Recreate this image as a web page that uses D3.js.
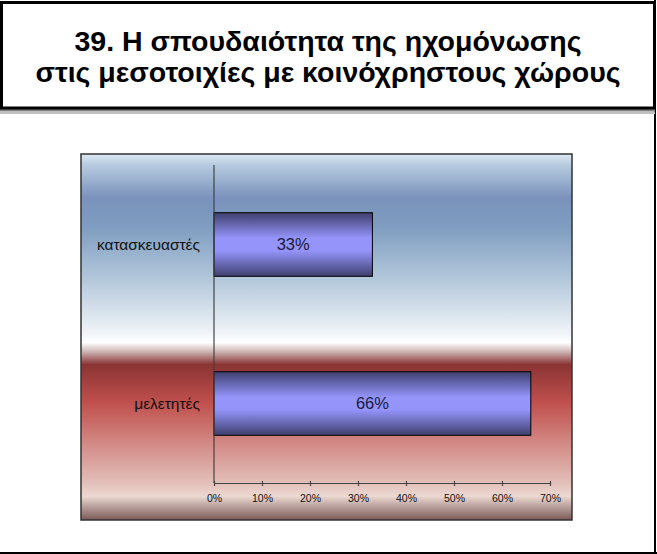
<!DOCTYPE html>
<html>
<head>
<meta charset="utf-8">
<script src="https://cdn.jsdelivr.net/npm/d3@7"></script>
<style>
  body { margin: 0; background: #fff; }
  svg { display: block; font-family: "Liberation Sans", Arial, sans-serif; }
</style>
</head>
<body>
<svg id="chart" width="657" height="554"></svg>
<script>
var titleLines = ["39. Η σπουδαιότητα της ηχομόνωσης",
                  "στις μεσοτοιχίες με κοινόχρηστους χώρους"];
var categories = ["κατασκευαστές", "μελετητές"];
var values = [33, 66];
var xTicks = [0, 10, 20, 30, 40, 50, 60, 70];

var svg = d3.select("#chart");
var defs = svg.append("defs");

//Plot area background: blue half over red half
var bgStops = [
  [0, "#dde8f2"], [0.03, "#b7cbdf"], [0.12, "#7a92bc"], [0.2, "#7f9dc0"],
  [0.3, "#a3bbd3"], [0.4, "#cbd9e6"], [0.49, "#f0f4f8"], [0.515, "#ffffff"],
  [0.54, "#cdb5b4"], [0.575, "#8a3434"], [0.68, "#c0504d"], [0.8, "#d48e8a"],
  [0.9, "#e3c0ba"], [0.935, "#ecd9d2"], [0.965, "#b59d98"], [1, "#7a5a58"]
];
var bg = defs.append("linearGradient").attr("id", "bg")
  .attr("x1", 0).attr("y1", 0).attr("x2", 0).attr("y2", 1);
bg.selectAll("stop").data(bgStops).enter().append("stop")
  .attr("offset", function(d){ return d[0]; })
  .attr("stop-color", function(d){ return d[1]; });

var barGrad = defs.append("linearGradient").attr("id", "bar")
  .attr("x1", 0).attr("y1", 0).attr("x2", 0).attr("y2", 1);
barGrad.selectAll("stop").data([[0, "#3f3f6e"], [0.4, "#9494fb"], [0.6, "#9494fb"], [1, "#3f3f6e"]])
  .enter().append("stop")
  .attr("offset", function(d){ return d[0]; })
  .attr("stop-color", function(d){ return d[1]; });

//Page frame (right and bottom)
svg.append("line").attr("x1", 655).attr("y1", 0).attr("x2", 655).attr("y2", 554)
  .style("stroke", "#000").style("stroke-width", 2);
svg.append("line").attr("x1", 0).attr("y1", 553).attr("x2", 657).attr("y2", 553)
  .style("stroke", "#000").style("stroke-width", 2);

//Title box with shadow
svg.append("rect").attr("x", 0).attr("y", 109).attr("width", 655).attr("height", 2.5).style("fill", "#7f7f7f");
svg.append("rect").attr("x", 0).attr("y", 111.5).attr("width", 655).attr("height", 2.5).style("fill", "#c0c0c0");
svg.append("rect")
  .attr("x", 1.5).attr("y", 2.5).attr("width", 653).attr("height", 105.5)
  .style("fill", "#fff").style("stroke", "#000").style("stroke-width", 3);

svg.selectAll(".title").data(titleLines).enter().append("text")
  .attr("class", "title")
  .attr("x", 328)
  .attr("y", function(d, i){ return 51 + i * 31; })
  .attr("text-anchor", "middle")
  .style("font-size", "28.5px").style("font-weight", "bold")
  .text(function(d){ return d; });

//Plot area
svg.append("rect")
  .attr("x", 81).attr("y", 154).attr("width", 491).attr("height", 366)
  .style("fill", "url(#bg)").style("stroke", "#333").style("stroke-width", 1.5);

var x = d3.scaleLinear().domain([0, 70]).range([214, 550]);
var y = d3.scaleBand().domain(categories).range([165, 483])
  .paddingInner(0.6).paddingOuter(0.3);

//Bars
svg.selectAll(".bar").data(values).enter().append("rect")
  .attr("class", "bar")
  .attr("x", x(0))
  .attr("y", function(d, i){ return y(categories[i]); })
  .attr("width", function(d){ return x(d) - x(0); })
  .attr("height", y.bandwidth())
  .style("fill", "url(#bar)").style("stroke", "#000").style("stroke-width", 1);

svg.selectAll(".val").data(values).enter().append("text")
  .attr("class", "val")
  .attr("x", function(d){ return (x(0) + x(d)) / 2; })
  .attr("y", function(d, i){ return y(categories[i]) + y.bandwidth() / 2; })
  .attr("dy", "0.36em")
  .attr("text-anchor", "middle")
  .style("font-size", "16.5px").style("fill", "#1a1a38")
  .text(function(d){ return d + "%"; });

//Category labels
svg.selectAll(".cat").data(categories).enter().append("text")
  .attr("class", "cat")
  .attr("x", 200)
  .attr("y", function(d){ return y(d) + y.bandwidth() / 2; })
  .attr("dy", "0.36em")
  .attr("text-anchor", "end")
  .style("font-size", "15.5px").style("fill", "#111")
  .text(function(d){ return d; });

//Axes
svg.append("line")
  .attr("x1", x(0)).attr("y1", 165).attr("x2", x(0)).attr("y2", 483)
  .style("stroke", "#444").style("stroke-width", 1.2);

var xAxis = svg.append("g")
  .attr("transform", "translate(0,483)")
  .call(d3.axisBottom(x).tickValues(xTicks).tickSizeInner(3).tickSizeOuter(0).tickPadding(9)
    .tickFormat(function(d){ return d + "%"; }));
xAxis.select(".domain").style("stroke", "#444").style("stroke-width", 1.2);
xAxis.selectAll(".tick line").attr("y1", -2).style("stroke", "#444").style("stroke-width", 1.2);
xAxis.selectAll(".tick text")
  .style("font-family", "'Liberation Sans', Arial, sans-serif")
  .style("font-size", "10.5px").style("fill", "#111");
</script>
</body>
</html>
